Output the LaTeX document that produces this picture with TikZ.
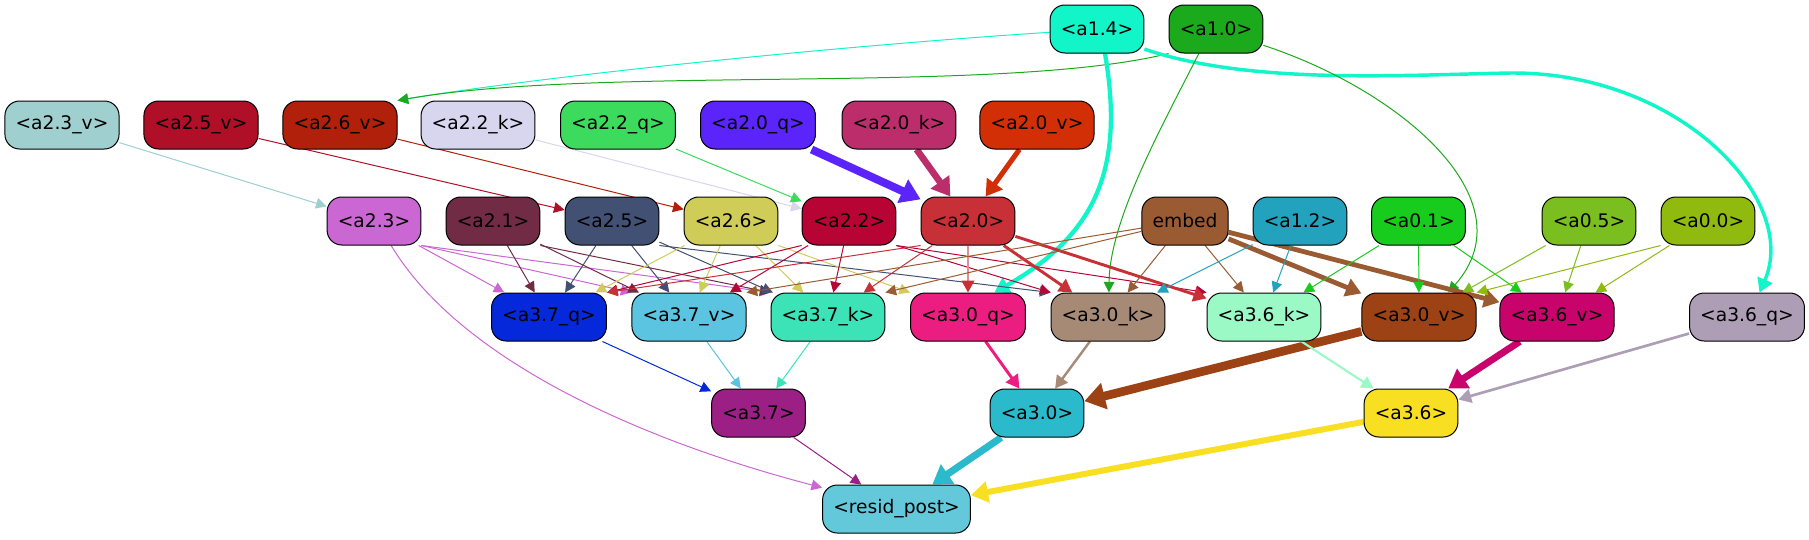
\documentclass[tikz,border=0pt]{standalone}
\usepackage{fontspec}
\setmainfont{DejaVu Sans}
\usetikzlibrary{arrows.meta}
\pgfdeclarelayer{bg}
\pgfsetlayers{bg,main}
\definecolor{c14}{HTML}{12F5C9}
\definecolor{c10}{HTML}{1BAA1B}
\definecolor{c23v}{HTML}{A0CFCF}
\definecolor{c25v}{HTML}{AF1027}
\definecolor{c26v}{HTML}{B1200A}
\definecolor{c22k}{HTML}{D8D5EF}
\definecolor{c22q}{HTML}{3CDB5E}
\definecolor{c20q}{HTML}{5A24FA}
\definecolor{c20k}{HTML}{BC2D6C}
\definecolor{c20v}{HTML}{D22F07}
\definecolor{c23}{HTML}{CB67D2}
\definecolor{c21}{HTML}{722B44}
\definecolor{c25}{HTML}{425073}
\definecolor{c26}{HTML}{D0CC58}
\definecolor{c22}{HTML}{B70435}
\definecolor{c20}{HTML}{C83038}
\definecolor{cemb}{HTML}{9A5B32}
\definecolor{c12}{HTML}{22A2BC}
\definecolor{c01}{HTML}{18CC1E}
\definecolor{c05}{HTML}{7BBE1F}
\definecolor{c00}{HTML}{90BA0D}
\definecolor{c37q}{HTML}{0428DA}
\definecolor{c37v}{HTML}{5BC4E0}
\definecolor{c37k}{HTML}{3BE3B7}
\definecolor{c30q}{HTML}{EC1D80}
\definecolor{c30k}{HTML}{A68A75}
\definecolor{c36k}{HTML}{9BF9C5}
\definecolor{c30v}{HTML}{9C4214}
\definecolor{c36v}{HTML}{C8046C}
\definecolor{c36q}{HTML}{AD9EB5}
\definecolor{c37}{HTML}{9B1F85}
\definecolor{c30}{HTML}{2ABACB}
\definecolor{c36}{HTML}{F9DF22}
\definecolor{cres}{HTML}{64C8DB}
\begin{document}
\begin{tikzpicture}[x=0.75pt,y=-0.75pt,
  nd/.style={draw=black, line width=0.75pt, rounded corners=11pt, minimum height=36pt,
    inner xsep=8pt, inner ysep=0pt, font=\fontsize{14pt}{16pt}\selectfont, text=black},
  e/.style={line width=0.75pt, -{Triangle[length=7pt 1.3, width=6.5pt 2]}},
]
\useasboundingbox (0,0) rectangle (1809,539);
% row 1
\node[nd, fill=c14] (a14) at (1097,29) {<a1.4>};
\node[nd, fill=c10] (a10) at (1216,29) {<a1.0>};
% row 2
\node[nd, fill=c23v] (a23v) at (62,125) {<a2.3\_v>};
\node[nd, fill=c25v] (a25v) at (201,125) {<a2.5\_v>};
\node[nd, fill=c26v] (a26v) at (340,125) {<a2.6\_v>};
\node[nd, fill=c22k] (a22k) at (478,125) {<a2.2\_k>};
\node[nd, fill=c22q] (a22q) at (618,125) {<a2.2\_q>};
\node[nd, fill=c20q] (a20q) at (758,125) {<a2.0\_q>};
\node[nd, fill=c20k] (a20k) at (899,125) {<a2.0\_k>};
\node[nd, fill=c20v] (a20v) at (1037,125) {<a2.0\_v>};
% row 3
\node[nd, fill=c23] (a23) at (374,221) {<a2.3>};
\node[nd, fill=c21] (a21) at (493,221) {<a2.1>};
\node[nd, fill=c25] (a25) at (612,221) {<a2.5>};
\node[nd, fill=c26] (a26) at (731,221) {<a2.6>};
\node[nd, fill=c22] (a22) at (849,221) {<a2.2>};
\node[nd, fill=c20] (a20) at (968,221) {<a2.0>};
\node[nd, fill=cemb] (emb) at (1185,221) {embed};
\node[nd, fill=c12] (a12) at (1300,221) {<a1.2>};
\node[nd, fill=c01] (a01) at (1418.5,221) {<a0.1>};
\node[nd, fill=c05] (a05) at (1589,221) {<a0.5>};
\node[nd, fill=c00] (a00) at (1708,221) {<a0.0>};
% row 4
\node[nd, fill=c37q] (a37q) at (549,317) {<a3.7\_q>};
\node[nd, fill=c37v] (a37v) at (689,317) {<a3.7\_v>};
\node[nd, fill=c37k] (a37k) at (828,317) {<a3.7\_k>};
\node[nd, fill=c30q] (a30q) at (968,317) {<a3.0\_q>};
\node[nd, fill=c30k] (a30k) at (1108,317) {<a3.0\_k>};
\node[nd, fill=c36k] (a36k) at (1264,317) {<a3.6\_k>};
\node[nd, fill=c30v] (a30v) at (1419,317) {<a3.0\_v>};
\node[nd, fill=c36v] (a36v) at (1557,317) {<a3.6\_v>};
\node[nd, fill=c36q] (a36q) at (1747,317) {<a3.6\_q>};
% row 5
\node[nd, fill=c37] (a37) at (758.5,413) {<a3.7>};
\node[nd, fill=c30] (a30) at (1037,413) {<a3.0>};
\node[nd, fill=c36] (a36) at (1411,413) {<a3.6>};
% row 6
\node[nd, fill=cres] (res) at (896.5,509) {<resid\_post>};

\begin{pgfonlayer}{bg}
% from row 1
\draw[e, draw=c14] (a14.184) .. controls (850,45) and (550,75) .. (a26v.north east);
\draw[e, draw=c10] (a10.south west) .. controls (1000,95) and (600,65) .. (a26v.north east);
\draw[e, draw=c14, line width=3.2pt] (a14.-72) .. controls (1125,170) and (1095,235) .. (a30q.43);
\draw[e, draw=c14, line width=2.6pt] (a14.-23) .. controls (1250,85) and (1400,75) .. (1511,73)
   .. controls (1680,72) and (1800,200) .. (a36q.63);
\draw[e, draw=c10] (a10.-125) .. controls (1160,130) and (1110,220) .. (a30k.88);
\draw[e, draw=c10] (a10.-19) .. controls (1400,90) and (1530,200) .. (a30v.40);
% row 2 -> row 3
\draw[e, draw=c23v] (a23v) -- (a23);
\draw[e, draw=c25v] (a25v) -- (a25);
\draw[e, draw=c26v] (a26v) -- (a26);
\draw[e, draw=c22k] (a22k) -- (a22);
\draw[e, draw=c22q] (a22q) -- (a22);
\draw[e, draw=c20q, line width=6pt] (a20q) -- (a20);
\draw[e, draw=c20k, line width=5pt] (a20k) -- (a20);
\draw[e, draw=c20v, line width=3.8pt] (a20v) -- (a20);
% row 3 -> row 4
\draw[e, draw=c23] (a23) -- (a37q);
\draw[e, draw=c23] (a23.south east) -- (a37v.north west);
\draw[e, draw=c23] (a23.south east) -- (a37k.north west);
\draw[e, draw=c23] (a23.-55) .. controls (460,360) and (640,440) .. (res.164);
\draw[e, draw=c21] (a21) -- (a37q);
\draw[e, draw=c21] (a21) -- (a37v);
\draw[e, draw=c21] (a21.south east) -- (a37k.north west);
\draw[e, draw=c25] (a25) -- (a37q);
\draw[e, draw=c25] (a25) -- (a37v);
\draw[e, draw=c25] (a25) -- (a37k);
\draw[e, draw=c25] (a25.south east) -- (a30k.north west);
\draw[e, draw=c26] (a26) -- (a37q);
\draw[e, draw=c26] (a26) -- (a37v);
\draw[e, draw=c26] (a26) -- (a37k);
\draw[e, draw=c26] (a26.south east) -- (a30q.north west);
\draw[e, draw=c22] (a22.south west) -- (a37q.north east);
\draw[e, draw=c22] (a22) -- (a37v);
\draw[e, draw=c22] (a22) -- (a37k);
\draw[e, draw=c22] (a22.south east) -- (a30k.north west);
\draw[e, draw=c22] (a22.south east) -- (a36k.north west);
\draw[e, draw=c20] (a20.south west) -- (a37q.north east);
\draw[e, draw=c20] (a20) -- (a37k);
\draw[line width=1.5pt, draw=c20!55, -{Triangle[length=7pt 1.3, width=6.5pt 2, color=c20]}] (a20) -- (a30q);
\draw[e, draw=c20, line width=2.2pt] (a20) -- (a30k);
\draw[e, draw=c20, line width=2.2pt] (a20) -- (a36k);
\draw[e, draw=cemb] (emb) -- (a37v.north east);
\draw[e, draw=cemb] (emb) -- (a37k.north east);
\draw[e, draw=cemb] (emb) -- (a30k);
\draw[e, draw=cemb] (emb) -- (a36k);
\draw[e, draw=cemb, line width=3.6pt] (emb) -- (a30v);
\draw[e, draw=cemb, line width=3.6pt] (emb) -- (a36v);
\draw[e, draw=c12] (a12) -- (a30k);
\draw[e, draw=c12] (a12) -- (a36k);
\draw[e, draw=c01] (a01) -- (a36k);
\draw[e, draw=c01] (a01) -- (a30v);
\draw[e, draw=c01] (a01) -- (a36v);
\draw[e, draw=c05] (a05) -- (a30v);
\draw[e, draw=c05] (a05) -- (a36v);
\draw[e, draw=c00] (a00.south west) -- (a30v.north east);
\draw[e, draw=c00] (a00) -- (a36v);
% row 4 -> row 5
\draw[e, draw=c37q] (a37q) -- (a37);
\draw[e, draw=c37v] (a37v) -- (a37);
\draw[e, draw=c37k] (a37k) -- (a37);
\draw[e, draw=c30q, line width=2.2pt] (a30q) -- (a30);
\draw[e, draw=c30k, line width=1.8pt] (a30k) -- (a30);
\draw[e, draw=c30v, line width=6.5pt] (a30v) -- (a30);
\draw[e, draw=c36k, line width=1.6pt] (a36k) -- (a36);
\draw[e, draw=c36v, line width=5.2pt] (a36v) -- (a36);
\draw[e, draw=c36q, line width=2pt] (a36q) -- (a36);
% row 5 -> row 6
\draw[e, draw=c37] (a37) -- (res);
\draw[e, draw=c30, line width=5.3pt] (a30) -- (res);
\draw[e, draw=c36, line width=4.5pt] (a36) -- (res);
\end{pgfonlayer}
\end{tikzpicture}
\end{document}
